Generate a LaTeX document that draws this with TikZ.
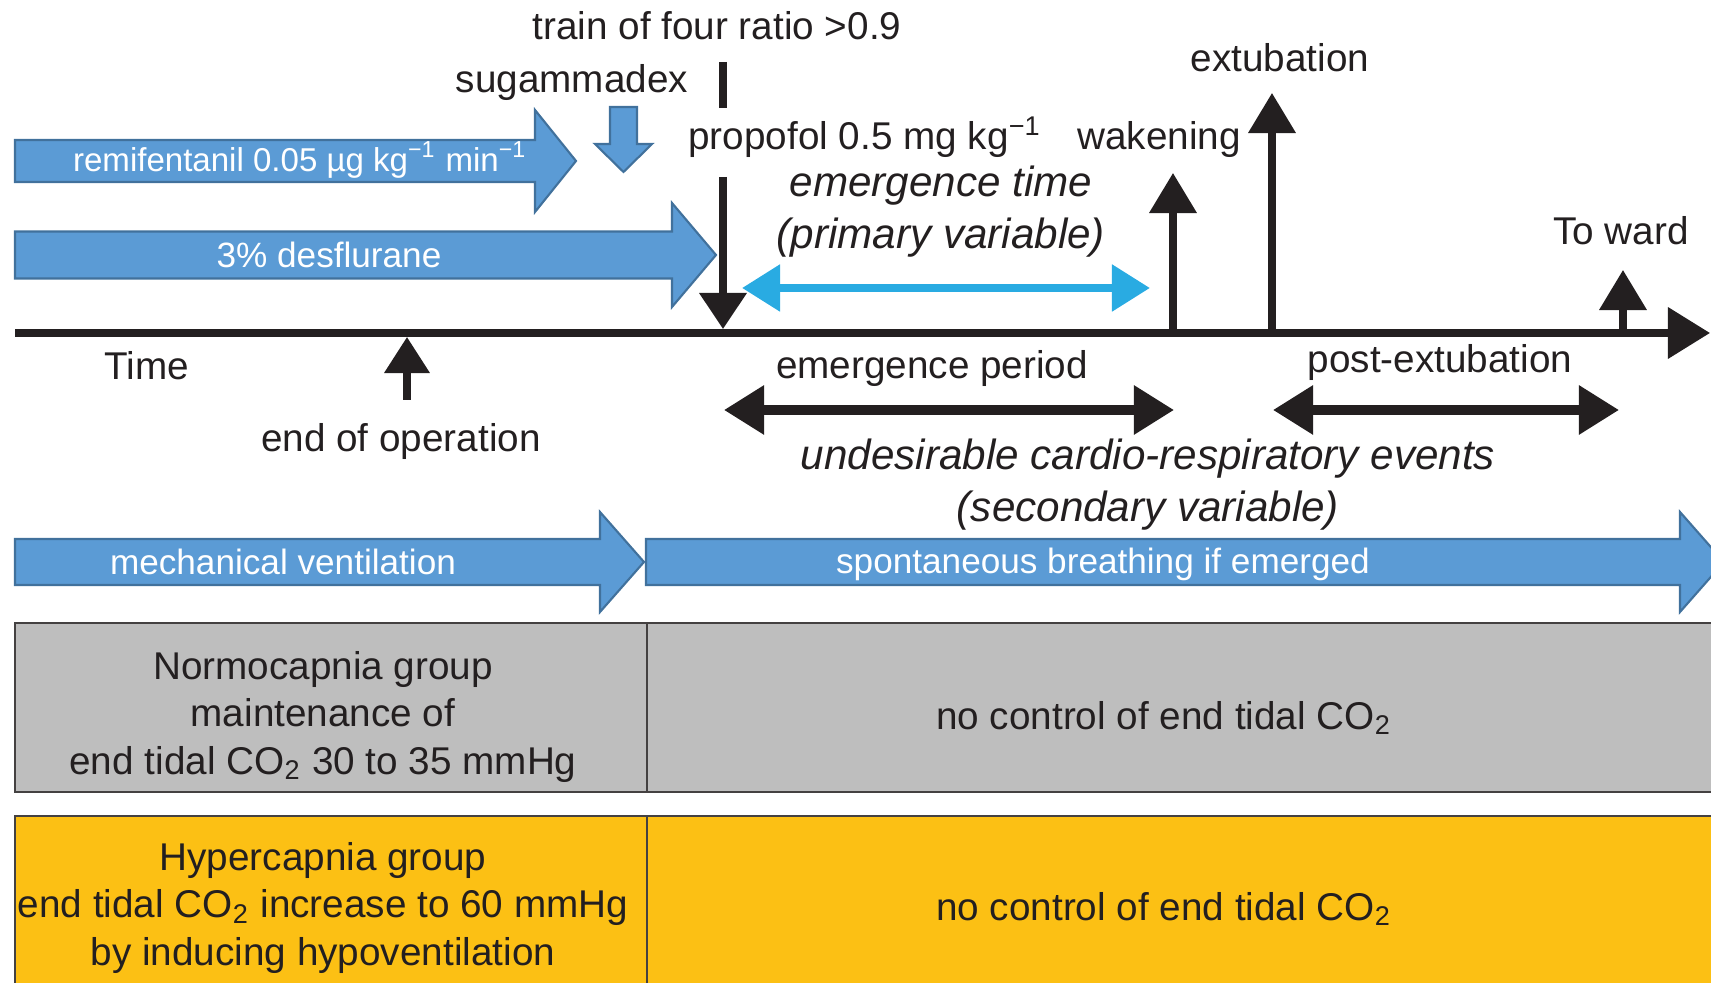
\documentclass[tikz,border=0pt]{standalone}
\usepackage{fontspec}
\setmainfont{Liberation Sans}
\usetikzlibrary{arrows.meta}
\definecolor{barblue}{RGB}{91,155,213}
\definecolor{barline}{RGB}{65,113,156}
\definecolor{evtcyan}{RGB}{41,171,226}
\definecolor{ink}{RGB}{35,31,32}
\definecolor{boxgray}{RGB}{190,190,190}
\definecolor{boxyellow}{RGB}{252,192,20}
% start, head base, tip, centre line, half shaft, half head
\newcommand{\bluearrow}[6]{%
  \draw[bluebar] (#1,#4-#5) -- (#2,#4-#5) -- (#2,#4-#6) -- (#3,#4)
    -- (#2,#4+#6) -- (#2,#4+#5) -- (#1,#4+#5) -- cycle;}

\begin{document}
\begin{tikzpicture}[x=0.01cm,y=-0.01cm,
  lbl/.style={font=\fontsize{11}{13.4}\selectfont,text=ink,inner sep=0pt},
  ital/.style={font=\fontsize{12}{14.8}\selectfont\itshape,text=ink,inner sep=0pt,align=center},
  bartxt/.style={font=\fontsize{10}{12}\selectfont,text=white,inner sep=0pt},
  bluebar/.style={fill=barblue,draw=barline,line width=0.6pt},
  evt/.style={draw=ink,line width=2pt,-{Triangle[length=0.4cm,width=0.46cm]}},
  spanarr/.style={draw=ink,line width=2.6pt,{Triangle[length=0.4cm,width=0.47cm]}-{Triangle[length=0.4cm,width=0.47cm]}},
  grp/.style={draw=ink!85,line width=0.8pt}]
 \useasboundingbox (0,0) rectangle (1711,983);
 \clip (0,0) rectangle (1711,983);
 %
 \bluearrow{15}{535}{576}{161}{21}{51}
 \bluearrow{15}{672}{716}{255}{23.5}{52}
 \bluearrow{15}{600}{644}{562}{23}{50}
 \bluearrow{646}{1680}{1724}{562}{23}{50}
 \draw[bluebar] (610,107) -- (637,107) -- (637,144) -- (652,144) -- (623.5,172)
   -- (595,144) -- (610,144) -- cycle;
 \node[bartxt,font=\fontsize{9.4}{12}\selectfont] (remi) at (300,160) {remifentanil 0.05 µg kg\textsuperscript{−1} min\textsuperscript{−1}};
 \node[bartxt] (des) at (329,255) {3\% desflurane};
 \node[bartxt] (mv) at (283,562) {mechanical ventilation};
 \node[bartxt] (sb) at (1103,564) {spontaneous breathing if emerged};
 %
 \coordinate (a0) at (15,333);
 \coordinate (a1) at (1710,333);
 \coordinate (tof0) at (723,62);
 \coordinate (tof1) at (723,108);
 \coordinate (pro0) at (723,177);
 \coordinate (pro1) at (723,329);
 \coordinate (wak0) at (1173,333);
 \coordinate (wak1) at (1173,173);
 \coordinate (ext0) at (1272,333);
 \coordinate (ext1) at (1272,93);
 \coordinate (ward0) at (1623,333);
 \coordinate (ward1) at (1623,270);
 \coordinate (eoo0) at (407,400);
 \coordinate (eoo1) at (407,337);
 \coordinate (em0) at (742,288);
 \coordinate (em1) at (1150,288);
 \coordinate (ep0) at (724,410);
 \coordinate (ep1) at (1174,410);
 \coordinate (pe0) at (1273,410);
 \coordinate (pe1) at (1619,410);
 %
 \draw[draw=ink,line width=2pt,-{Triangle[length=0.42cm,width=0.5cm]}] (a0) -- (a1);
 \draw[draw=ink,line width=2pt] (tof0) -- (tof1);
 \draw[evt,-{Triangle[length=0.36cm,width=0.46cm]}] (pro0) -- (pro1);
 \draw[evt] (wak0) -- (wak1);
 \draw[evt] (ext0) -- (ext1);
 \draw[evt] (ward0) -- (ward1);
 \draw[evt,-{Triangle[length=0.36cm,width=0.44cm]}] (eoo0) -- (eoo1);
 \draw[draw=evtcyan,line width=2.4pt,{Triangle[length=0.38cm,width=0.45cm]}-{Triangle[length=0.38cm,width=0.45cm]}] (em0) -- (em1);
 \draw[spanarr] (ep0) -- (ep1);
 \draw[spanarr] (pe0) -- (pe1);
 %
 \node[lbl] (tof) at (717,26) {train of four ratio >0.9};
 \node[lbl] (sug) at (572,83) {sugammadex};
 \node[lbl] (pro) at (865,137) {propofol 0.5 mg kg\textsuperscript{−1}};
 \node[lbl] (wak) at (1159,140) {wakening};
 \node[lbl] (ext) at (1280,58) {extubation};
 \node[lbl] (ward) at (1621,231) {To ward};
 \node[lbl] (time) at (147,366) {Time};
 \node[lbl] (eoo) at (401,442) {end of operation};
 \node[lbl] (ep) at (932,369) {emergence period};
 \node[lbl] (pe) at (1440,363) {post-extubation};
 \node[ital] (emt) at (941,212) {emergence time\\(primary variable)};
 \node[ital] (ucr) at (1148,485) {undesirable cardio-respiratory events\\(secondary variable)};
 %
 \draw[grp,fill=boxgray] (15,623) rectangle (1730,792);
 \draw[grp] (647,623) -- (647,792);
 \draw[grp,fill=boxyellow] (15,816) rectangle (1730,1000);
 \draw[grp] (647,816) -- (647,1000);
 \node[lbl,align=center] (norm) at (323,717) {Normocapnia group\\maintenance of\\end tidal CO\textsubscript{2} 30 to 35 mmHg};
 \node[lbl] (nc1) at (1164,718) {no control of end tidal CO\textsubscript{2}};
 \node[lbl,align=center] (hyp) at (323,908) {Hypercapnia group\\end tidal CO\textsubscript{2} increase to 60 mmHg\\by inducing hypoventilation};
 \node[lbl] (nc2) at (1164,909) {no control of end tidal CO\textsubscript{2}};
\end{tikzpicture}
\end{document}
